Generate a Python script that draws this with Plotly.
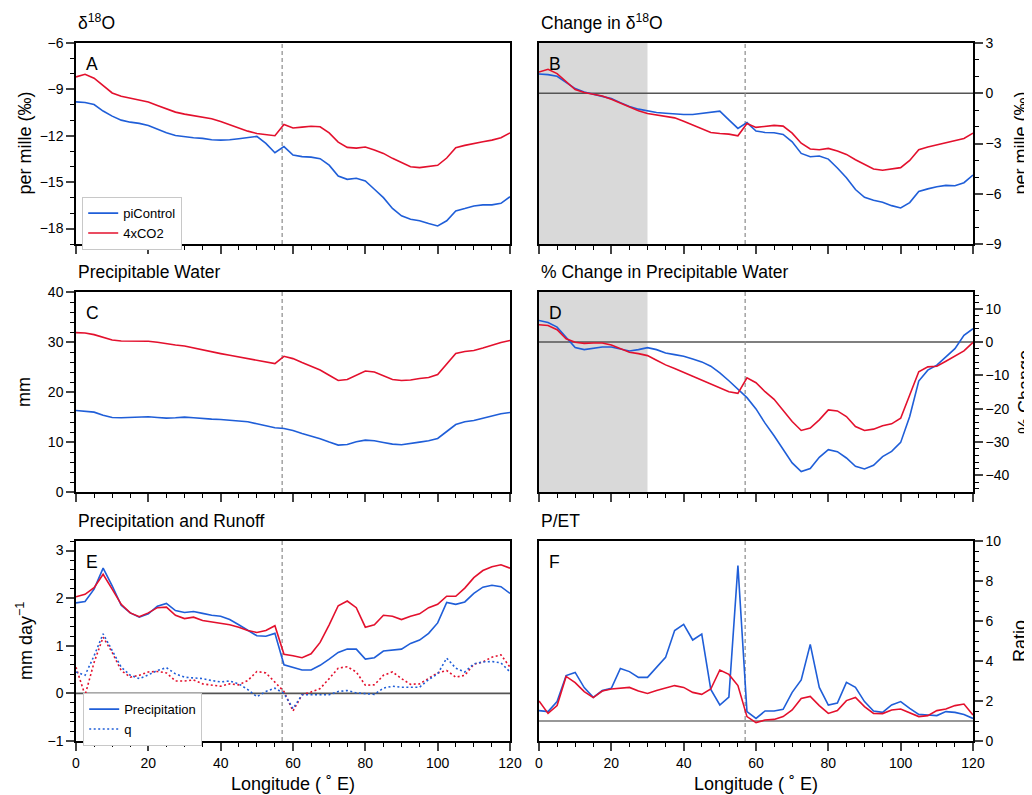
import plotly.graph_objects as go

# ---------------- data ----------------
lon = [0, 2.5, 5, 7.5, 10, 12.5, 15, 17.5, 20, 22.5, 25, 27.5, 30, 32.5, 35, 37.5, 40, 42.5, 45, 47.5,
       50, 52.5, 55, 57.5, 60, 62.5, 65, 67.5, 70, 72.5, 75, 77.5, 80, 82.5, 85, 87.5, 90, 92.5, 95, 97.5,
       100, 102.5, 105, 107.5, 110, 112.5, 115, 117.5, 120]

d18o_pi = [-9.81, -9.85, -9.98, -10.4, -10.73, -10.99, -11.12, -11.2, -11.33, -11.59, -11.81, -11.98, -12.06,
           -12.13, -12.17, -12.26, -12.28, -12.26, -12.19, -12.13, -12.04, -12.49, -13.1, -12.7, -13.25, -13.35,
           -13.38, -13.48, -13.9, -14.6, -14.82, -14.75, -14.92, -15.46, -16.0, -16.7, -17.18, -17.4, -17.5,
           -17.68, -17.83, -17.5, -16.86, -16.71, -16.54, -16.47, -16.47, -16.37, -15.94]
d18o_4x = [-8.19, -8.02, -8.28, -8.75, -9.23, -9.44, -9.55, -9.66, -9.81, -10.04, -10.26, -10.47, -10.6, -10.69,
           -10.77, -10.9, -11.08, -11.29, -11.5, -11.7, -11.85, -11.91, -12.0, -11.27, -11.5, -11.44, -11.38,
           -11.42, -11.81, -12.41, -12.75, -12.8, -12.73, -12.92, -13.14, -13.46, -13.74, -14.0, -14.06, -14.0,
           -13.91, -13.44, -12.77, -12.62, -12.49, -12.39, -12.28, -12.13, -11.81]

dd18o_pi = [1.15, 1.11, 1.01, 0.63, 0.28, 0.08, -0.06, -0.16, -0.32, -0.56, -0.79, -0.95, -1.07, -1.15, -1.19,
            -1.25, -1.27, -1.27, -1.21, -1.17, -1.07, -1.59, -2.1, -1.75, -2.26, -2.34, -2.36, -2.46, -2.9, -3.59,
            -3.79, -3.75, -3.93, -4.46, -5.04, -5.75, -6.21, -6.39, -6.51, -6.71, -6.85, -6.53, -5.87, -5.71,
            -5.58, -5.5, -5.52, -5.34, -4.88]
dd18o_4x = [1.27, 1.43, 1.17, 0.67, 0.22, 0.04, -0.06, -0.16, -0.36, -0.6, -0.85, -1.05, -1.21, -1.29, -1.35,
            -1.47, -1.67, -1.9, -2.14, -2.34, -2.4, -2.44, -2.54, -1.81, -2.04, -1.98, -1.92, -1.96, -2.38, -2.98,
            -3.33, -3.37, -3.29, -3.45, -3.65, -3.97, -4.23, -4.52, -4.6, -4.54, -4.44, -4.01, -3.37, -3.21,
            -3.08, -2.96, -2.84, -2.7, -2.38]

pw_pi = [16.3, 16.17, 15.97, 15.37, 14.9, 14.84, 14.9, 15.04, 15.04, 14.9, 14.77, 14.84, 14.97, 14.84, 14.64,
         14.57, 14.5, 14.37, 14.24, 14.04, 13.64, 13.24, 12.84, 12.7, 12.3, 11.7, 11.18, 10.64, 9.98, 9.38,
         9.51, 10.05, 10.38, 10.25, 9.91, 9.58, 9.45, 9.65, 9.98, 10.25, 10.71, 12.1, 13.5, 14.04, 14.3, 14.77,
         15.24, 15.64, 15.9]
pw_4x = [31.87, 31.8, 31.47, 30.94, 30.4, 30.2, 30.2, 30.2, 30.14, 29.94, 29.6, 29.4, 29.2, 28.8, 28.34, 28.0,
         27.68, 27.34, 27.0, 26.68, 26.35, 25.95, 25.68, 27.14, 26.68, 25.88, 25.2, 24.4, 23.35, 22.29, 22.49,
         23.35, 24.2, 24.0, 23.3, 22.5, 22.3, 22.4, 22.7, 22.9, 23.5, 25.6, 27.7, 28.1, 28.3, 28.8, 29.4, 29.9,
         30.3]

dpw_pi = [6.46, 5.86, 4.47, 1.29, -1.69, -2.29, -1.99, -1.49, -1.49, -2.09, -2.68, -2.29, -1.69, -2.29, -3.28,
          -3.78, -4.27, -5.07, -5.96, -7.26, -9.24, -11.63, -14.21, -16.7, -20.08, -24.35, -28.13, -32.3,
          -36.28, -38.87, -37.97, -34.59, -32.3, -32.9, -34.79, -37.28, -38.07, -36.98, -34.39, -32.8, -30.12,
          -22.37, -11.73, -8.45, -6.96, -4.47, -1.99, 1.99, 3.98]
dpw_4x = [5.17, 4.97, 3.68, 0.99, -0.1, -0.4, -0.3, -0.3, -0.89, -1.89, -3.08, -3.48, -4.08, -5.47, -6.86,
          -7.95, -9.15, -10.24, -11.43, -12.62, -13.92, -14.91, -15.41, -10.74, -12.23, -14.91, -17.2, -20.38,
          -23.86, -26.54, -25.84, -23.36, -20.38, -20.68, -22.37, -25.35, -26.54, -26.14, -25.15, -24.55,
          -22.86, -15.9, -8.95, -7.46, -7.26, -5.77, -4.27, -2.68, -0.1]

pr_pi = [1.9, 1.93, 2.19, 2.63, 2.26, 1.85, 1.69, 1.6, 1.67, 1.83, 1.89, 1.74, 1.7, 1.72, 1.68, 1.64, 1.62,
         1.55, 1.44, 1.32, 1.21, 1.2, 1.26, 0.6, 0.54, 0.49, 0.49, 0.59, 0.72, 0.86, 0.93, 0.93, 0.72, 0.75,
         0.89, 0.91, 0.93, 1.05, 1.12, 1.26, 1.48, 1.91, 1.87, 1.92, 2.1, 2.23, 2.27, 2.24, 2.1]
pr_4x = [2.03, 2.08, 2.22, 2.5, 2.19, 1.87, 1.69, 1.61, 1.69, 1.8, 1.81, 1.64, 1.57, 1.6, 1.53, 1.5, 1.48,
         1.44, 1.39, 1.32, 1.28, 1.32, 1.42, 0.82, 0.79, 0.75, 0.83, 1.07, 1.44, 1.84, 1.94, 1.8, 1.39, 1.44,
         1.64, 1.62, 1.55, 1.62, 1.67, 1.8, 1.87, 2.04, 2.04, 2.21, 2.43, 2.58, 2.66, 2.7, 2.63]
q_pi = [0.45, 0.38, 0.79, 1.25, 0.9, 0.55, 0.38, 0.31, 0.39, 0.48, 0.54, 0.41, 0.34, 0.33, 0.31, 0.27, 0.24,
        0.26, 0.2, 0.08, -0.07, 0.04, 0.11, 0.0, -0.32, -0.03, -0.03, -0.04, -0.03, 0.04, 0.06, 0.01, -0.01,
        -0.02, 0.11, 0.15, 0.13, 0.13, 0.13, 0.29, 0.41, 0.74, 0.53, 0.45, 0.62, 0.66, 0.67, 0.64, 0.45]
q_4x = [0.55, -0.04, 0.65, 1.18, 0.86, 0.48, 0.34, 0.38, 0.45, 0.46, 0.43, 0.26, 0.26, 0.28, 0.2, 0.17, 0.15,
        0.2, 0.18, 0.27, 0.46, 0.43, 0.24, 0.04, -0.37, -0.03, 0.03, 0.1, 0.31, 0.53, 0.56, 0.45, 0.17, 0.18,
        0.38, 0.45, 0.31, 0.19, 0.2, 0.32, 0.43, 0.48, 0.34, 0.38, 0.61, 0.66, 0.76, 0.81, 0.55]

pet_pi = [1.52, 1.47, 1.97, 3.27, 3.43, 2.67, 2.18, 2.52, 2.63, 3.63, 3.47, 3.18, 3.18, 3.67, 4.18, 5.52, 5.83,
          5.05, 5.35, 2.58, 1.8, 2.2, 8.77, 1.47, 1.13, 1.5, 1.5, 1.58, 2.43, 3.05, 4.83, 2.68, 1.8, 1.9, 2.93,
          2.68, 1.97, 1.5, 1.43, 1.8, 1.97, 1.63, 1.33, 1.3, 1.27, 1.47, 1.43, 1.33, 1.13]
pet_4x = [2.0, 1.38, 1.77, 3.23, 2.92, 2.47, 2.17, 2.5, 2.6, 2.63, 2.68, 2.5, 2.38, 2.52, 2.63, 2.77, 2.68, 2.43,
          2.33, 2.6, 3.55, 3.33, 2.77, 1.22, 0.92, 1.05, 1.08, 1.22, 1.55, 2.13, 2.23, 1.77, 1.38, 1.52, 2.02,
          2.18, 1.72, 1.38, 1.37, 1.55, 1.6, 1.42, 1.22, 1.27, 1.52, 1.6, 1.77, 1.85, 1.3]

panel_titles = ["δ<sup>18</sup>O", "Change in δ<sup>18</sup>O", "Precipitable Water",
                "% Change in Precipitable Water", "Precipitation and Runoff", "P/ET"]
panel_letters = ["A", "B", "C", "D", "E", "F"]
ytitles = ["per mille (‰)", "per mille (‰)", "mm", "% Change", "mm day<sup>−1</sup>", "Ratio"]
xtitle = "Longitude ( ˚ E)"
dash_lon = 57
shade_lon = [0, 30]

BLUE = "#1f5ed8"
RED = "#e3102d"
FONT = "Liberation Sans, Arial, Helvetica, sans-serif"

# The page body has an 8px margin, so the figure is drawn 8px in from the window's corner.
OFF = 8
W, H = 1032 - OFF, 795 - OFF
def px(x):
    return (x - OFF) / W
def py(y):
    return 1 - (y - OFF) / H

xdom_left = [px(76), px(510)]
xdom_right = [px(539), px(973)]
rows = [(43, 244), (292, 492), (541, 741)]
ydoms = [[py(b), py(t)] for (t, b) in rows]

fig = go.Figure()

series = [
    (d18o_pi, d18o_4x),
    (dd18o_pi, dd18o_4x),
    (pw_pi, pw_4x),
    (dpw_pi, dpw_4x),
    (pr_pi, pr_4x),
    (pet_pi, pet_4x),
]

LW = 1.6
DOT = "2px,2.5px"
for i, (s_pi, s_4x) in enumerate(series):
    ax = "" if i == 0 else str(i + 1)
    xa, ya = "x" + ax, "y" + ax
    if i == 0:
        fig.add_trace(go.Scatter(x=lon, y=s_pi, mode="lines", name="piControl", xaxis=xa, yaxis=ya,
                                 line=dict(color=BLUE, width=LW), legend="legend"))
        fig.add_trace(go.Scatter(x=lon, y=s_4x, mode="lines", name="4xCO2", xaxis=xa, yaxis=ya,
                                 line=dict(color=RED, width=LW), legend="legend"))
    elif i == 4:
        fig.add_trace(go.Scatter(x=lon, y=q_4x, mode="lines", name="q 4xCO2", xaxis=xa, yaxis=ya,
                                 line=dict(color=RED, width=LW, dash=DOT), showlegend=False))
        fig.add_trace(go.Scatter(x=lon, y=q_pi, mode="lines", name="q", xaxis=xa, yaxis=ya,
                                 line=dict(color=BLUE, width=LW, dash=DOT), legend="legend2",
                                 legendrank=2))
        fig.add_trace(go.Scatter(x=lon, y=s_pi, mode="lines", name="Precipitation", xaxis=xa, yaxis=ya,
                                 line=dict(color=BLUE, width=LW), legend="legend2", legendrank=1))
        fig.add_trace(go.Scatter(x=lon, y=s_4x, mode="lines", name="P 4xCO2", xaxis=xa, yaxis=ya,
                                 line=dict(color=RED, width=LW), showlegend=False))
    else:
        fig.add_trace(go.Scatter(x=lon, y=s_pi, mode="lines", xaxis=xa, yaxis=ya,
                                 line=dict(color=BLUE, width=LW), showlegend=False))
        fig.add_trace(go.Scatter(x=lon, y=s_4x, mode="lines", xaxis=xa, yaxis=ya,
                                 line=dict(color=RED, width=LW), showlegend=False))

yspecs = [
    dict(range=[-19, -6], tick0=-18, dtick=3, minor=1),
    dict(range=[-9, 3], tick0=-9, dtick=3, minor=1),
    dict(range=[0, 40], tick0=0, dtick=10, minor=2),
    dict(range=[-45, 15], tick0=-40, dtick=10, minor=2),
    dict(range=[-1, 3.2], tick0=-1, dtick=1, minor=0.2),
    dict(range=[0, 10], tick0=0, dtick=2, minor=0.5),
]

layout = dict(
    width=W, height=H, margin=dict(l=0, r=0, t=0, b=0, autoexpand=False),
    paper_bgcolor="white", plot_bgcolor="white",
    font=dict(family=FONT, size=14, color="black"),
    shapes=[], annotations=[],
)

for i in range(6):
    ax = "" if i == 0 else str(i + 1)
    col = i % 2
    row = i // 2
    right = col == 1
    layout["xaxis" + ax] = dict(
        domain=xdom_right if right else xdom_left, anchor="y" + ax, automargin=False,
        range=[0, 120], tick0=0, dtick=20, ticks="outside", ticklen=8, tickwidth=1.5,
        minor=dict(dtick=5, ticks="outside", ticklen=4, tickwidth=1.3, tickcolor="black"),
        showticklabels=(row == 2), showgrid=False, zeroline=False,
        showline=True, linecolor="black", linewidth=1.5, mirror=True,
        tickfont=dict(size=14), fixedrange=True,
    )
    ys = yspecs[i]
    layout["yaxis" + ax] = dict(
        domain=ydoms[row], anchor="x" + ax, side="right" if right else "left", automargin=False,
        range=ys["range"], tick0=ys["tick0"], dtick=ys["dtick"],
        ticks="outside", ticklen=8, tickwidth=1.5,
        minor=dict(dtick=ys["minor"], ticks="outside", ticklen=4, tickwidth=1.3, tickcolor="black"),
        showgrid=False, zeroline=False,
        showline=True, linecolor="black", linewidth=1.5, mirror=True,
        tickfont=dict(size=14), fixedrange=True,
    )
    xref = "x" + ax
    yref_dom = "y" + ax + " domain"
    # shading
    if i in (1, 3):
        layout["shapes"].append(dict(type="rect", xref=xref, yref=yref_dom, x0=shade_lon[0], x1=shade_lon[1],
                                     y0=0, y1=1, fillcolor="#d9d9d9", line=dict(width=0), layer="below"))
    # reference horizontal lines
    if i in (1, 3, 4):
        layout["shapes"].append(dict(type="line", xref=xref + " domain", yref="y" + ax, x0=0, x1=1, y0=0, y1=0,
                                     line=dict(color="#555555", width=1.6), layer="below"))
    if i == 5:
        layout["shapes"].append(dict(type="line", xref=xref + " domain", yref="y" + ax, x0=0, x1=1, y0=1, y1=1,
                                     line=dict(color="#333333", width=1.1), layer="below"))
    # dashed longitude line
    layout["shapes"].append(dict(type="line", xref=xref, yref=yref_dom, x0=dash_lon, x1=dash_lon, y0=0, y1=1,
                                 line=dict(color="#8c8c8c", width=1.2, dash="4px,3px"), layer="below"))
    # panel title
    title_y = [22, 272, 521][row]
    layout["annotations"].append(dict(text=panel_titles[i], xref="paper", yref="paper",
                                      x=px(539 if right else 76), y=py(title_y), xanchor="left",
                                      yanchor="middle", showarrow=False, font=dict(size=17.5)))
    # panel letter
    layout["annotations"].append(dict(text=panel_letters[i], xref=xref + " domain", yref=yref_dom,
                                      x=0.018, y=0.955, xanchor="left", yanchor="top", showarrow=False,
                                      font=dict(size=17.5)))
    # y title
    ytx = [24, 1020][col]
    if i == 3:
        ytx = 1025
    ymid = (rows[row][0] + rows[row][1]) / 2
    layout["annotations"].append(dict(text=ytitles[i], xref="paper", yref="paper", x=px(ytx), y=py(ymid),
                                      xanchor="center", yanchor="middle", textangle=-90, showarrow=False,
                                      font=dict(size=18)))
    if row == 2:
        xmid = ((xdom_right if right else xdom_left)[0] + (xdom_right if right else xdom_left)[1]) / 2
        layout["annotations"].append(dict(text=xtitle, xref="paper", yref="paper", x=xmid, y=py(784),
                                          xanchor="center", yanchor="middle", showarrow=False,
                                          font=dict(size=18)))

layout["legend"] = dict(x=px(82), y=py(197), xanchor="left", yanchor="top", bgcolor="white",
                        bordercolor="#c8c8c8", borderwidth=1.2, font=dict(size=13), tracegroupgap=0,
                        itemwidth=30)
layout["legend2"] = dict(x=px(83), y=py(693), xanchor="left", yanchor="top", bgcolor="white",
                         bordercolor="#c8c8c8", borderwidth=1.2, font=dict(size=13), tracegroupgap=0,
                         traceorder="normal", itemwidth=30)

fig.update_layout(**layout)
fig.write_html("out.html")
